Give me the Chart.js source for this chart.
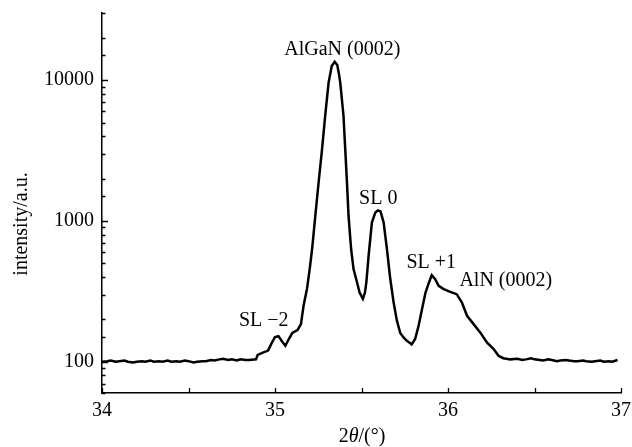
<!DOCTYPE html>
<html><head><meta charset="utf-8">
<script src="https://cdn.jsdelivr.net/npm/chart.js@4"></script>
<style>html,body{margin:0;padding:0;background:#fff;}#wrap{width:632px;height:447px;}</style>
</head><body><div id="wrap"><canvas id="c" width="632" height="447"></canvas></div>
<script>
const angle = [34.00,34.03,34.05,34.08,34.10,34.13,34.15,34.18,34.20,34.23,34.25,34.28,34.30,34.33,34.35,34.38,34.40,34.43,34.45,34.48,34.50,34.53,34.55,34.58,34.60,34.63,34.65,34.68,34.70,34.73,34.75,34.78,34.80,34.83,34.85,34.89,34.90,34.93,34.96,34.98,35.00,35.02,35.04,35.06,35.08,35.10,35.13,35.15,35.165,35.185,35.20,35.215,35.233,35.252,35.272,35.29,35.31,35.328,35.345,35.36,35.37,35.377,35.396,35.406,35.416,35.425,35.44,35.454,35.474,35.489,35.508,35.52,35.528,35.541,35.56,35.58,35.595,35.61,35.628,35.647,35.666,35.686,35.705,35.724,35.743,35.762,35.78,35.79,35.81,35.83,35.85,35.87,35.89,35.906,35.926,35.946,35.975,36.013,36.05,36.08,36.11,36.148,36.187,36.225,36.264,36.293,36.32,36.36,36.40,36.43,36.45,36.48,36.50,36.53,36.55,36.58,36.60,36.63,36.65,36.68,36.70,36.73,36.75,36.78,36.80,36.83,36.85,36.88,36.90,36.93,36.95,36.98,36.995];
const intensity = [100,101,102,100,101,102,100,99,100,101,100,102,100,101,100,102,100,101,100,102,101,99,100,101,101,103,102,104,105,103,104,102,104,103,103,104,112,116,120,135,150,152,140,130,145,160,168,185,250,330,450,640,1086,1876,3236,5580,9640,12600,13500,12800,11000,9640,5580,3240,1880,1090,630,455,367,310,280,310,367,565,975,1150,1190,1170,975,630,390,262,195,160,149,141,136,133,145,180,237,310,366,412,386,346,328,314,302,264,212,185,161,137,123,110,106,104,105,103,104,106,104,103,102,104,103,101,102,103,102,101,101,102,101,100,101,102,100,101,100,103];
const xTickLabels = ['34','35','36','37'];
const yTickLabels = ['100','1000','10000'];
const peakLabels = ['AlGaN (0002)','SL 0','SL +1','AlN (0002)','SL \u22122'];
const peakLabelX = [35.389,35.597,35.903,36.334,34.935];
const peakLabelY = [16400,1428,509,376,195];

const FONT = "'Liberation Serif','Times New Roman',serif";
const FS = 20;

const decor = {
  id:'decor',
  afterDraw(chart){
    const {ctx, chartArea:a, scales:{x,y}} = chart;
    ctx.save();
    ctx.strokeStyle='#000'; ctx.lineWidth=1.3;
    ctx.beginPath();
    y.ticks.forEach(t=>{
      const py = Math.round(y.getPixelForValue(t.value))+0.5;
      const major = yTickLabels.includes(String(t.value));
      const len = major?6:3.5;
      ctx.moveTo(a.left,py); ctx.lineTo(a.left+len,py);
    });
    x.ticks.forEach(t=>{
      const px = Math.round(x.getPixelForValue(t.value))+0.5;
      ctx.moveTo(px,a.bottom); ctx.lineTo(px,a.bottom-5);
    });
    ctx.stroke();
    ctx.fillStyle='#000';
    ctx.font = FS+'px '+FONT;
    ctx.textAlign='center'; ctx.textBaseline='middle';
    peakLabels.forEach((s,i)=>{
      ctx.fillText(s, x.getPixelForValue(peakLabelX[i]), y.getPixelForValue(peakLabelY[i]));
    });
    ctx.save();
    ctx.translate(22, 224); ctx.rotate(-Math.PI/2);
    ctx.fillText('intensity/a.u.',0,0);
    ctx.restore();
    const parts = [['2',''],['\u03B8','italic '],['/(\u00B0)','']];
    let total=0;
    parts.forEach(p=>{ctx.font=p[1]+FS+'px '+FONT; total+=ctx.measureText(p[0]).width;});
    let cx = 362 - total/2;
    ctx.textAlign='left';
    parts.forEach(p=>{ctx.font=p[1]+FS+'px '+FONT; ctx.fillText(p[0],cx,437); cx+=ctx.measureText(p[0]).width;});
    ctx.restore();
  }
};

new Chart(document.getElementById('c'),{
  type:'line',
  data:{datasets:[{data:angle.map((a,i)=>({x:a,y:intensity[i]})),borderColor:'#000',borderWidth:2.5,pointRadius:0,tension:0,fill:false,borderJoinStyle:'miter'}]},
  options:{
    responsive:false, animation:false, devicePixelRatio:1,
    layout:{padding:{top:13,right:11,left:0,bottom:0}},
    plugins:{legend:{display:false},tooltip:{enabled:false}},
    scales:{
      x:{type:'linear',min:34,max:37,
        grid:{drawOnChartArea:false,drawTicks:false},
        border:{display:true,color:'#000',width:1.5},
        ticks:{stepSize:0.5,autoSkip:false,maxRotation:0,padding:6,color:'#000',font:{family:FONT,size:FS},
          callback:v=>xTickLabels.includes(String(v))?String(v):''},
        afterFit:s=>{s.height=54; s.paddingLeft=0; s.paddingRight=0;}
      },
      y:{type:'logarithmic',min:60,max:30000,
        grid:{drawOnChartArea:false,drawTicks:false},
        border:{display:true,color:'#000',width:1.5},
        ticks:{autoSkip:false,padding:8,color:'#000',font:{family:FONT,size:FS},
          callback:v=>yTickLabels.includes(String(v))?String(v):''},
        afterFit:s=>{s.width=102; s.paddingTop=0; s.paddingBottom=0;}
      }
    }
  },
  plugins:[decor]
});
</script></body></html>
